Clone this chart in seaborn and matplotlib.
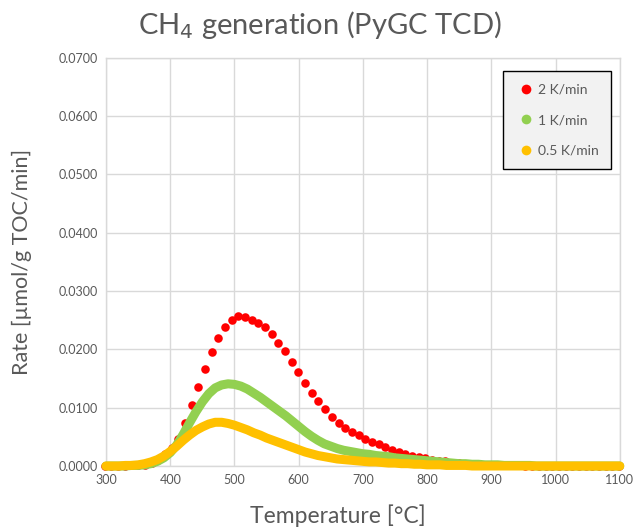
import matplotlib
matplotlib.use("Agg")
import matplotlib.pyplot as plt
from matplotlib.lines import Line2D
from matplotlib.ticker import FormatStrFormatter
import seaborn as sns

# 2 K/min: discrete points (~10.4 degC apart)
temp_2k = [298.0, 308.4, 318.8, 329.2, 339.6, 350.0, 360.4, 370.8, 381.2, 391.6,
           402.0, 412.4, 422.8, 433.2, 443.6, 454.0, 464.4, 474.8, 485.2, 495.6,
           506.0, 516.4, 526.8, 537.2, 547.6, 558.0, 568.4, 578.8, 589.2, 599.6,
           610.0, 620.4, 630.8, 641.2, 651.6, 662.0, 672.4, 682.8, 693.2, 703.6,
           714.0, 724.4, 734.8, 745.2, 755.6, 766.0, 776.4, 786.8, 797.2, 807.6,
           818.0, 828.4, 838.8, 849.2, 859.6, 870.0, 880.4, 890.8, 901.2, 911.6,
           922.0, 932.4, 942.8, 953.2, 963.6, 974.0, 984.4, 994.8, 1005.2, 1015.6,
           1026.0, 1036.4, 1046.8, 1057.2, 1067.6, 1078.0, 1088.4, 1098.8]
rate_2k = [0.0, 0.0, 0.0, 0.0, 0.0001, 0.0001, 0.0002, 0.0005, 0.0011, 0.0020,
           0.0031, 0.0047, 0.0074, 0.0104, 0.0135, 0.0166, 0.0195, 0.0219, 0.0239, 0.0251,
           0.0257, 0.0256, 0.0251, 0.0245, 0.0238, 0.0227, 0.0211, 0.0197, 0.0179, 0.0161,
           0.0142, 0.0126, 0.0111, 0.0097, 0.0084, 0.0074, 0.0066, 0.0058, 0.0053, 0.0047,
           0.0041, 0.0037, 0.0033, 0.0028, 0.0024, 0.0021, 0.0018, 0.0015, 0.0013, 0.0011,
           0.0009, 0.0008, 0.0006, 0.0005, 0.0004, 0.0003, 0.0003, 0.0002, 0.0002, 0.0001,
           0.0001, 0.0001, 0.0001, 0.0, 0.0, 0.0, 0.0, 0.0, 0.0, 0.0,
           0.0, 0.0, 0.0, 0.0, 0.0, 0.0, 0.0, 0.0]

# 1 K/min and 0.5 K/min: dense points, read every 10 degC
temp = [300, 310, 320, 330, 340, 350, 360, 370, 380, 390,
        400, 410, 420, 430, 440, 450, 460, 470, 480, 490,
        500, 510, 520, 530, 540, 550, 560, 570, 580, 590,
        600, 610, 620, 630, 640, 650, 660, 670, 680, 690,
        700, 710, 720, 730, 740, 750, 760, 770, 780, 790,
        800, 810, 820, 830, 840, 850, 860, 870, 880, 890,
        900, 910, 920, 930, 940, 950, 960, 970, 980, 990,
        1000, 1010, 1020, 1030, 1040, 1050, 1060, 1070, 1080, 1090, 1100]
rate_1k = [0.0, 0.0, 0.0, 0.0, 0.0001, 0.0001, 0.0002, 0.0004, 0.0008, 0.0014,
           0.0023, 0.0036, 0.0054, 0.0074, 0.0093, 0.0110, 0.0124, 0.0134, 0.0139, 0.0141,
           0.0140, 0.0137, 0.0132, 0.0125, 0.0118, 0.0110, 0.0102, 0.0094, 0.0086, 0.0077,
           0.0068, 0.0059, 0.0051, 0.0044, 0.0038, 0.0034, 0.0030, 0.0027, 0.0025, 0.0023,
           0.0021, 0.0020, 0.0018, 0.0017, 0.0016, 0.0014, 0.0013, 0.0012, 0.0011, 0.0010,
           0.0009, 0.0008, 0.0007, 0.0006, 0.0005, 0.0004, 0.0004, 0.0003, 0.0003, 0.0002,
           0.0002, 0.0002, 0.0001, 0.0001, 0.0001, 0.0001, 0.0001, 0.0, 0.0, 0.0,
           0.0, 0.0, 0.0, 0.0, 0.0, 0.0, 0.0, 0.0, 0.0, 0.0, 0.0]
rate_05k = [0.0, 0.0, 0.0, 0.0001, 0.0001, 0.0002, 0.0004, 0.0007, 0.0011, 0.0017,
            0.0025, 0.0034, 0.0044, 0.0053, 0.0061, 0.0067, 0.0072, 0.0075, 0.0075, 0.0073,
            0.0070, 0.0066, 0.0062, 0.0057, 0.0053, 0.0048, 0.0044, 0.0040, 0.0036, 0.0032,
            0.0028, 0.0024, 0.0021, 0.0018, 0.0016, 0.0014, 0.0012, 0.0011, 0.0010, 0.0009,
            0.0008, 0.0007, 0.0007, 0.0006, 0.0005, 0.0005, 0.0004, 0.0004, 0.0003, 0.0003,
            0.0002, 0.0002, 0.0002, 0.0001, 0.0001, 0.0001, 0.0001, 0.0, 0.0, 0.0,
            0.0, 0.0, 0.0, 0.0, 0.0, 0.0, 0.0, 0.0, 0.0, 0.0,
            0.0, 0.0, 0.0, 0.0, 0.0, 0.0, 0.0, 0.0, 0.0, 0.0, 0.0]

series_labels = ["2 K/min", "1 K/min", "0.5 K/min"]
colores = ["#ff0000", "#92d050", "#ffc000"]

sns.set_theme(style="whitegrid")
plt.rcParams["font.family"] = ["Lato", "DejaVu Sans"]
gris_texto = "#595959"
gris_linea = "#d9d9d9"

fig = plt.figure(figsize=(6.35, 5.31), dpi=100)
ax = fig.add_axes([0.167, 0.1224, 0.809, 0.7686])

sns.scatterplot(x=temp_2k, y=rate_2k, color=colores[0], s=38, linewidth=0,
                ax=ax, zorder=3, legend=False, clip_on=False)
sns.lineplot(x=temp, y=rate_1k, color=colores[1], lw=6.5, ax=ax, zorder=4,
             solid_capstyle="round", legend=False, clip_on=False)
sns.lineplot(x=temp, y=rate_05k, color=colores[2], lw=6.5, ax=ax, zorder=5,
             solid_capstyle="round", legend=False, clip_on=False)

ax.set_xlim(300, 1100)
ax.set_ylim(0, 0.07)
ax.set_xticks(range(300, 1101, 100))
ax.set_yticks([i * 0.01 for i in range(8)])
ax.yaxis.set_major_formatter(FormatStrFormatter("%.4f"))
ax.tick_params(axis="both", labelsize=9, colors=gris_texto, length=0, pad=6)
ax.grid(True, color=gris_linea, lw=1)
for sp in ax.spines.values():
    sp.set_color(gris_linea)
    sp.set_linewidth(1)

ax.set_xlabel("Temperature [°C]", fontsize=16.5, color=gris_texto)
ax.xaxis.set_label_coords(0.451, -0.095)
ax.set_ylabel("Rate [µmol/g TOC/min]", fontsize=15.5, color=gris_texto)
ax.yaxis.set_label_coords(-0.144, 0.5)
fig.text(0.504, 0.952, "CH$_4$ generation (PyGC TCD)", ha="center", va="center",
         fontsize=21, color=gris_texto)

handles = [Line2D([], [], ls="", marker="o", markersize=7, color=c, markeredgewidth=0)
           for c in colores]
leg = ax.legend(handles, series_labels, loc="upper right", bbox_to_anchor=(0.983, 0.968),
                fontsize=10, frameon=True, fancybox=False, facecolor="#f2f2f2",
                edgecolor="black", framealpha=1, labelspacing=1.35, borderpad=0.9,
                handletextpad=0.1, handlelength=1.5, borderaxespad=0)
leg.get_frame().set_linewidth(1)
for t in leg.get_texts():
    t.set_color(gris_texto)
leg.set_zorder(10)

fig.savefig("out.png", dpi=100)
